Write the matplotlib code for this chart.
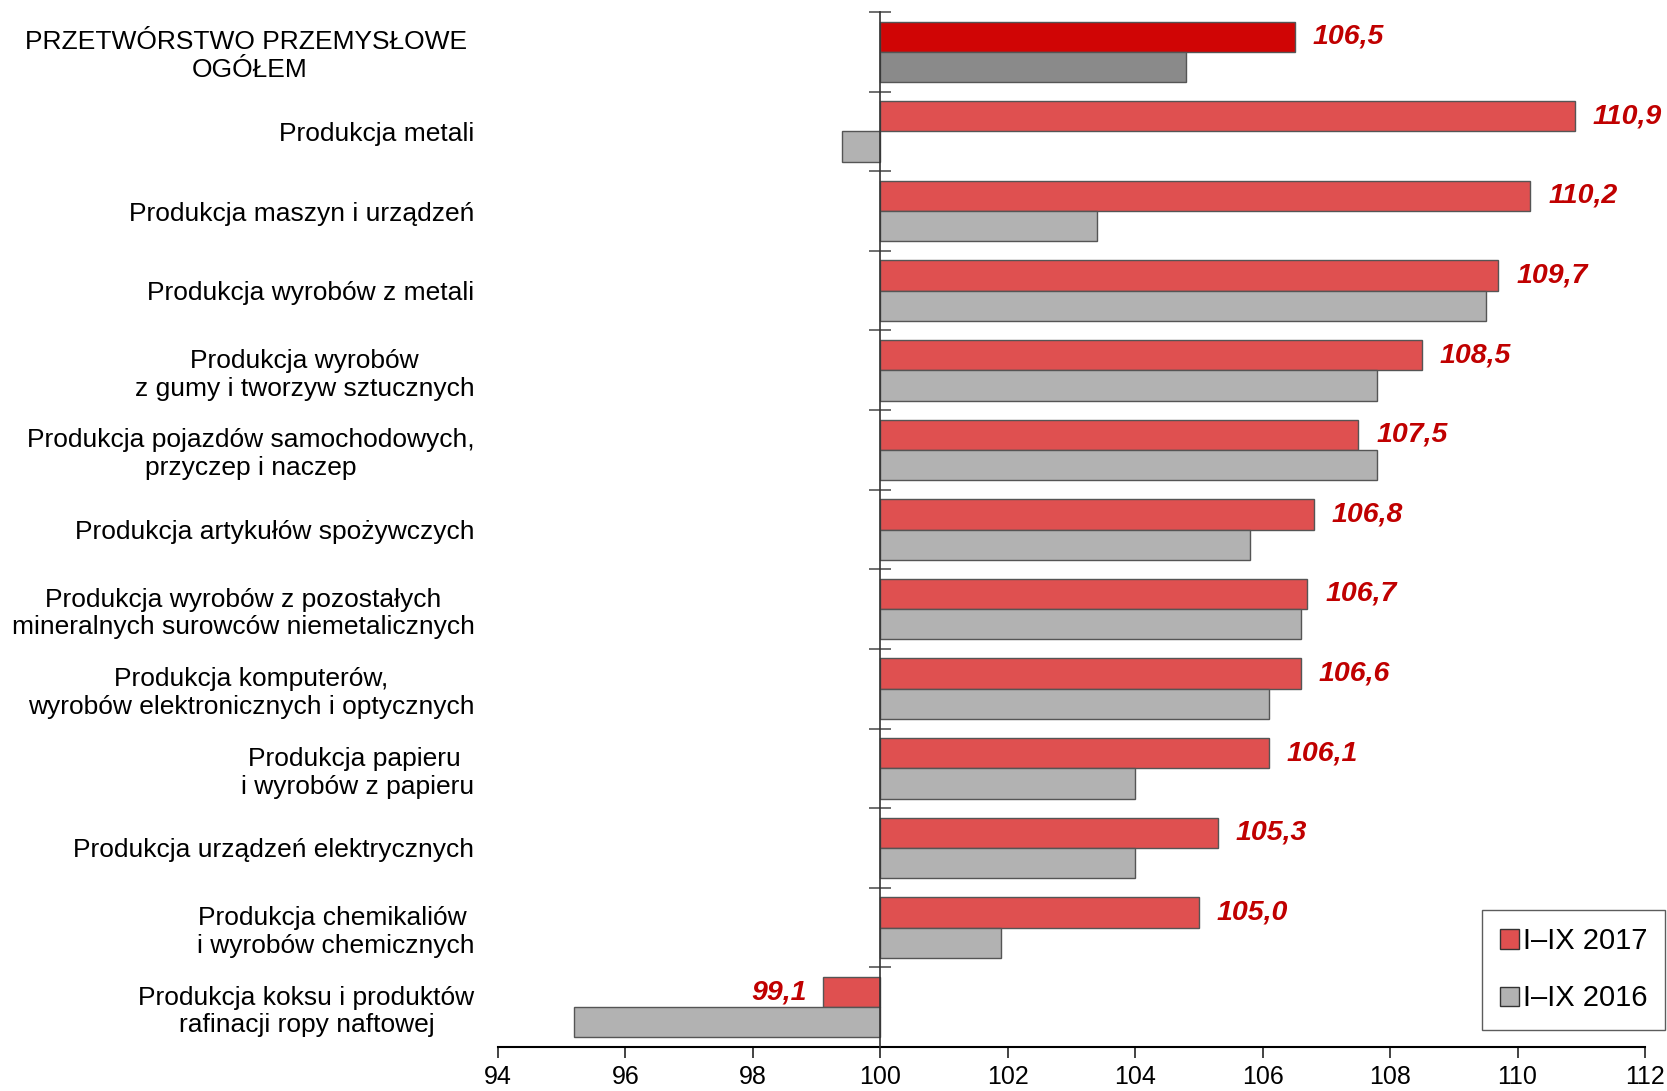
import matplotlib
matplotlib.use('Agg')
from matplotlib import pyplot as plt
from matplotlib.patches import Patch
import numpy as np

plt.rcParams['font.family'] = ['Liberation Sans', 'DejaVu Sans']

categories = [
	'PRZETWÓRSTWO PRZEMYSŁOWE \nOGÓŁEM',
	'Produkcja metali',
	'Produkcja maszyn i urządzeń',
	'Produkcja wyrobów z metali',
	'Produkcja wyrobów\nz gumy i tworzyw sztucznych',
	'Produkcja pojazdów samochodowych,\nprzyczep i naczep',
	'Produkcja artykułów spożywczych',
	'Produkcja wyrobów z pozostałych\nmineralnych surowców niemetalicznych',
	'Produkcja komputerów,\nwyrobów elektronicznych i optycznych',
	'Produkcja papieru \ni wyrobów z papieru',
	'Produkcja urządzeń elektrycznych',
	'Produkcja chemikaliów \ni wyrobów chemicznych',
	'Produkcja koksu i produktów\nrafinacji ropy naftowej',
]
y2017 = [106.5, 110.9, 110.2, 109.7, 108.5, 107.5, 106.8, 106.7, 106.6, 106.1, 105.3, 105.0, 99.1]
y2016 = [104.8, 99.4, 103.4, 109.5, 107.8, 107.8, 105.8, 106.6, 106.1, 104.0, 104.0, 101.9, 95.2]
series_names = ['I–IX 2017', 'I–IX 2016']
xticks = np.arange(94, 113, 2)

base = 100
red, red_dark = '#DF5050', '#D00505'
gray, gray_dark = '#B2B2B2', '#8A8A8A'
edge = '#555555'

W, H = 1667, 1091
fig = plt.figure(figsize=(W / 100, H / 100), dpi=100)
ax = fig.add_axes([498 / W, (H - 1047) / H, (1645 - 498) / W, (1047 - 12) / H])

n = len(categories)
y = np.arange(n)
h = 0.38

red_cols = [red_dark] + [red] * (n - 1)
gray_cols = [gray_dark] + [gray] * (n - 1)
ax.barh(y - h / 2, np.array(y2017) - base, left=base, height=h,
	color=red_cols, edgecolor=edge, linewidth=1, zorder=2)
ax.barh(y + h / 2, np.array(y2016) - base, left=base, height=h,
	color=gray_cols, edgecolor=edge, linewidth=1, zorder=2)

# value labels for 2017
for yi, v in zip(y, y2017):
	txt = f'{v:.1f}'.replace('.', ',')
	if v >= base:
		ax.text(v + 0.28, yi - h / 2, txt, ha='left', va='center', color='#C00000',
			fontsize=20.5, fontweight='bold', fontstyle='italic')
	else:
		ax.text(v - 0.25, yi - h / 2, txt, ha='right', va='center', color='#C00000',
			fontsize=20.5, fontweight='bold', fontstyle='italic')

ax.set_xlim(94, 112)
ax.set_ylim(n - 0.5, -0.5)
ax.set_xticks(xticks)
ax.tick_params(axis='x', direction='out', length=8, width=1.2, labelsize=18, pad=5, color='#222222')

for s in ['top', 'right']:
	ax.spines[s].set_visible(False)
ax.spines['bottom'].set_linewidth(1.5)
ax.spines['left'].set_position(('data', base))
ax.spines['left'].set_color('#333333')
ax.spines['left'].set_linewidth(1.2)
ax.spines['left'].set_zorder(3)

# category boundary marks on the 100 axis
ax.set_yticks([])
ax.set_yticks(np.arange(n + 1) - 0.5, minor=True)
ax.tick_params(axis='y', which='minor', direction='inout', length=16, width=1.2, color='#555555')

# category labels
sec = ax.secondary_yaxis('left')
sec.set_yticks(y, labels=categories)
sec.tick_params(length=0, pad=17, labelsize=19)
sec.spines['left'].set_visible(False)
for lab in sec.get_yticklabels():
	lab.set_multialignment('center')

handles = [Patch(facecolor=red, edgecolor='#333333'), Patch(facecolor=gray, edgecolor='#333333')]
leg = fig.legend(handles, series_names, loc='lower right', bbox_to_anchor=(1665 / W, (H - 1030) / H),
	bbox_transform=fig.transFigure, fontsize=21, frameon=True, fancybox=False, edgecolor='#333333',
	handlelength=0.65, handleheight=0.65, handletextpad=0.15, labelspacing=1.0, borderpad=0.6,
	borderaxespad=0)
leg.get_frame().set_linewidth(1)

fig.savefig('out.png', dpi=100)
